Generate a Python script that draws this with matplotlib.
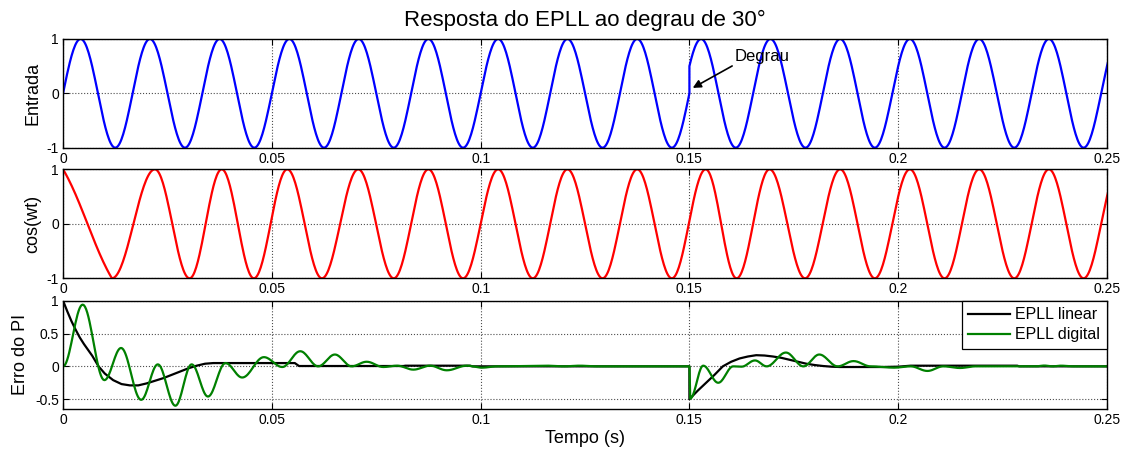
import numpy as np
import matplotlib
matplotlib.use('Agg')
import matplotlib.pyplot as plt

plt.rcParams['font.family'] = ['Liberation Sans', 'DejaVu Sans']
plt.rcParams['axes.unicode_minus'] = False

# --- data (times in s) ---
# Entrada: extrema of the input before the 30 deg step (first/last are just outside the view)
entrada_pre_t = [-0.0042, 0.0042, 0.0125, 0.0208, 0.0292, 0.0375, 0.0458, 0.0542, 0.0625, 0.0708,
                 0.0792, 0.0875, 0.0958, 0.1042, 0.1125, 0.1208, 0.1292, 0.1375, 0.1458, 0.1542]
entrada_pre_v = [-1, 1, -1, 1, -1, 1, -1, 1, -1, 1, -1, 1, -1, 1, -1, 1, -1, 1, -1, 1]
# Entrada: extrema after the step
entrada_pos_t = [0.1444, 0.1528, 0.1611, 0.1694, 0.1778, 0.1861, 0.1944, 0.2028, 0.2111, 0.2194,
                 0.2278, 0.2361, 0.2444, 0.2528]
entrada_pos_v = [-1, 1, -1, 1, -1, 1, -1, 1, -1, 1, -1, 1, -1, 1]
t_degrau = 0.15

# cos(wt): extrema of the EPLL output
saida_t = [0.0, 0.0117, 0.0220, 0.0303, 0.0380, 0.0457, 0.0537, 0.0620, 0.0707, 0.0792, 0.0875,
           0.0958, 0.1042, 0.1125, 0.1208, 0.1292, 0.1375, 0.1458, 0.1539, 0.1613, 0.1692, 0.1777,
           0.1861, 0.1944, 0.2028, 0.2111, 0.2194, 0.2278, 0.2361, 0.2444, 0.2528]
saida_v = [1, -1, 1, -1, 1, -1, 1, -1, 1, -1, 1, -1, 1, -1, 1, -1, 1, -1, 1, -1, 1, -1, 1, -1, 1,
           -1, 1, -1, 1, -1, 1]
saida_trechos_retos = [0]   # the first descent is almost a straight line

# Erro do PI - EPLL digital (extrema)
dig_t = [0.0, 0.0047, 0.0099, 0.0139, 0.0187, 0.0227, 0.0269, 0.0308, 0.0347, 0.0389, 0.0429,
         0.0481, 0.0525, 0.0568, 0.0611, 0.0651, 0.0691, 0.0727, 0.0767, 0.0800, 0.0839, 0.0879,
         0.0919, 0.0967, 0.1003, 0.1040, 0.1158, 0.1200, 0.1237, 0.1280, 0.1500, 0.1502, 0.1533,
         0.1569, 0.1605, 0.1625, 0.1657, 0.1685, 0.1731, 0.1773, 0.1811, 0.1855, 0.1893, 0.1934,
         0.1990, 0.2030, 0.2070, 0.2108, 0.2148, 0.2185, 0.2330, 0.2350, 0.2370, 0.2390, 0.2420,
         0.2500]
dig_v = [0.0, 0.94, -0.21, 0.28, -0.51, 0.03, -0.60, 0.03, -0.46, 0.05, -0.17,
         0.14, -0.01, 0.23, 0.0, 0.18, 0.0, 0.07, -0.01, 0.01, -0.05, 0.01,
         -0.06, 0.01, -0.02, 0.0, 0.01, 0.0, 0.01, 0.0, 0.0, -0.49, 0.01,
         -0.25, 0.0, -0.005, 0.09, 0.0, 0.21, 0.0, 0.18, 0.0, 0.08, 0.0,
         -0.02, 0.0, -0.07, 0.0, -0.025, 0.0, 0.0, 0.012, 0.0, 0.01, 0.0,
         0.0]

# Erro do PI - EPLL linear (samples)
lin_t = [0.0, 0.001, 0.002, 0.003, 0.004, 0.005, 0.006, 0.007, 0.0085, 0.010, 0.012, 0.014,
         0.016, 0.018, 0.020, 0.022, 0.024, 0.026, 0.028, 0.030, 0.032, 0.034, 0.036, 0.0555,
         0.0565, 0.0815, 0.082, 0.0975, 0.098, 0.15, 0.15, 0.152, 0.154, 0.156, 0.158, 0.160,
         0.162, 0.164, 0.166, 0.168, 0.170, 0.172, 0.174, 0.176, 0.178, 0.180, 0.182, 0.184,
         0.186, 0.196, 0.200, 0.203, 0.2285, 0.229, 0.25]
lin_v = [1.0, 0.84, 0.69, 0.56, 0.44, 0.34, 0.25, 0.16, 0.0, -0.11, -0.21, -0.27,
         -0.29, -0.29, -0.26, -0.22, -0.18, -0.13, -0.08, -0.03, 0.01, 0.04, 0.05, 0.05,
         0.005, 0.005, 0.01, 0.01, 0.0, 0.0, -0.5, -0.37, -0.25, -0.13, 0.0, 0.07,
         0.12, 0.15, 0.17, 0.165, 0.15, 0.13, 0.10, 0.07, 0.04, 0.02, 0.005, -0.005,
         -0.01, -0.01, -0.005, 0.01, 0.01, 0.0, 0.0]

xticks = [0, 0.05, 0.1, 0.15, 0.2, 0.25]


def smooth_between(tp, vp, n=40, straight=()):
    # half-cosine segment between consecutive read extrema
    ts, vs = [], []
    for i in range(len(tp) - 1):
        s = np.linspace(0, 1, n)
        shape = np.cos(np.pi * s)
        if i in straight:
            shape = 0.75 * (1 - 2 * s) + 0.25 * shape
        ts.append(tp[i] + (tp[i + 1] - tp[i]) * s)
        vs.append((vp[i] + vp[i + 1]) / 2 + (vp[i] - vp[i + 1]) / 2 * shape)
    return np.concatenate(ts), np.concatenate(vs)


fig = plt.figure(figsize=(11.32, 4.57), dpi=100)
ax1 = fig.add_axes([0.0557, 0.6768, 0.9222, 0.2379])
ax2 = fig.add_axes([0.0557, 0.3910, 0.9222, 0.2385])
ax3 = fig.add_axes([0.0557, 0.1050, 0.9222, 0.2370])

# Entrada
t_a, v_a = smooth_between(entrada_pre_t, entrada_pre_v)
t_b, v_b = smooth_between(entrada_pos_t, entrada_pos_v)
keep_a = t_a <= t_degrau
keep_b = t_b >= t_degrau
t_in = np.concatenate([t_a[keep_a], [t_degrau, t_degrau], t_b[keep_b]])
v_a_end = np.interp(t_degrau, t_a, v_a)
v_b_start = np.interp(t_degrau, t_b, v_b)
v_in = np.concatenate([v_a[keep_a], [v_a_end, v_b_start], v_b[keep_b]])
ax1.plot(t_in, v_in, color='#0000FF', lw=1.6)
ax1.set_ylim(-1, 1)
ax1.set_yticks([-1, 0, 1])
ax1.set_ylabel('Entrada', fontsize=13)
ax1.set_title('Resposta do EPLL ao degrau de 30°', fontsize=16, pad=9)
ax1.annotate('Degrau', xy=(0.1508, 0.10), xytext=(0.1609, 0.67), fontsize=12,
             va='center', ha='left',
             arrowprops=dict(arrowstyle='-|>', color='k', lw=1.2, mutation_scale=12,
                             shrinkA=0, shrinkB=0, relpos=(0, 0)))

# cos(wt)
t_s, v_s = smooth_between(saida_t, saida_v, straight=saida_trechos_retos)
ax2.plot(t_s, v_s, color='#FF0000', lw=1.6)
ax2.set_ylim(-1, 1)
ax2.set_yticks([-1, 0, 1])
ax2.set_ylabel('cos(wt)', fontsize=13)

# Erro do PI
t_d, v_d = smooth_between(dig_t, dig_v, n=20)
ax3.plot(lin_t, lin_v, color='k', lw=1.6, label='EPLL linear')
ax3.plot(t_d, v_d, color='#008000', lw=1.6, label='EPLL digital')
ax3.set_ylim(-0.65, 1)
ax3.set_yticks([-0.5, 0, 0.5, 1])
ax3.set_ylabel('Erro do PI', fontsize=13)
ax3.set_xlabel('Tempo (s)', fontsize=13, labelpad=2)
leg = ax3.legend(loc='upper right', borderaxespad=0, fancybox=False, framealpha=1,
                 edgecolor='k', fontsize=11.5, handlelength=2.6, handletextpad=0.35,
                 labelspacing=0.3, borderpad=0.42)
leg.get_frame().set_linewidth(0.9)

for ax in (ax1, ax2, ax3):
    ax.set_xlim(0, 0.25)
    ax.set_xticks(xticks)
    ax.set_xticklabels(['%g' % x for x in xticks])
    ax.set_yticklabels(['%g' % y for y in ax.get_yticks()])
    ax.grid(True, linestyle=':', color='0.3', linewidth=0.8)
    ax.tick_params(direction='in', length=4, width=0.8, labelsize=10, pad=3,
                   top=True, right=True)
    for sp in ax.spines.values():
        sp.set_linewidth(1.0)

fig.savefig('out.png', dpi=100)
